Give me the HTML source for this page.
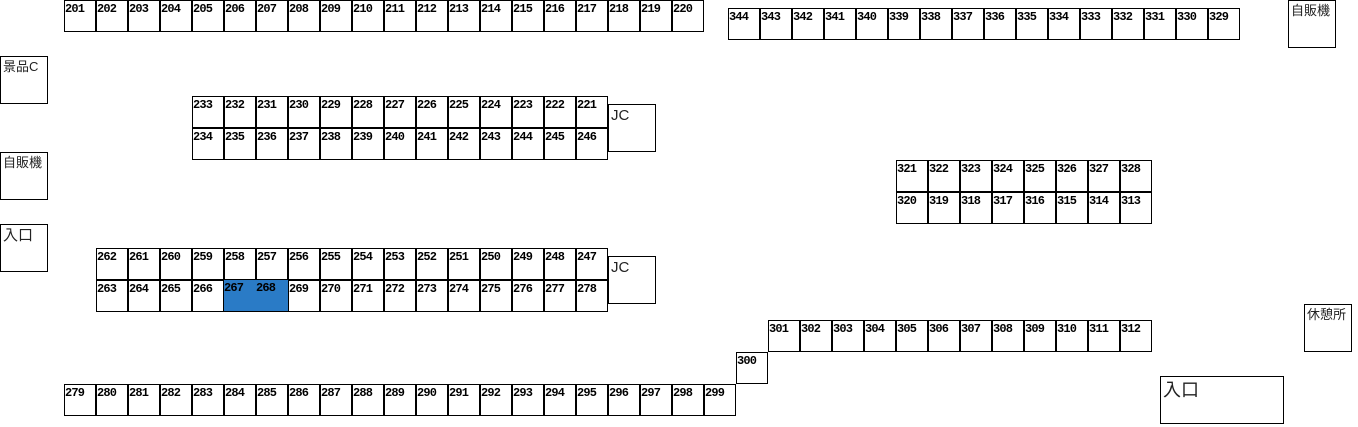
<!DOCTYPE html>
<html><head><meta charset="utf-8"><style>
body{margin:0;width:1358px;height:427px;background:#fff;position:relative;overflow:hidden;font-family:"Liberation Mono",monospace;}
.r{position:absolute;display:flex;height:32px;}
.r div{width:32px;height:32px;box-sizing:border-box;border:1px solid #000;font-weight:bold;font-size:12px;line-height:13px;padding:2px 0 0 0;letter-spacing:-0.8px;color:#000;}
.r div.b{background:#2a7bc6;border:0;border-bottom:1px solid #000;}
.bx{position:absolute;box-sizing:border-box;border:1px solid #000;font-family:"Liberation Sans","Noto Sans CJK JP",sans-serif;font-size:13px;line-height:17px;padding:1px 2px;color:#222;}
</style></head><body>
<div class="r" style="left:64px;top:0"><div>201</div><div>202</div><div>203</div><div>204</div><div>205</div><div>206</div><div>207</div><div>208</div><div>209</div><div>210</div><div>211</div><div>212</div><div>213</div><div>214</div><div>215</div><div>216</div><div>217</div><div>218</div><div>219</div><div>220</div></div>
<div class="r" style="left:728px;top:8px"><div>344</div><div>343</div><div>342</div><div>341</div><div>340</div><div>339</div><div>338</div><div>337</div><div>336</div><div>335</div><div>334</div><div>333</div><div>332</div><div>331</div><div>330</div><div>329</div></div>
<div class="bx" style="left:1288px;top:0;width:48px;height:48px">自販機</div>
<div class="bx" style="left:0;top:56px;width:48px;height:48px">景品C</div>
<div class="r" style="left:192px;top:96px"><div>233</div><div>232</div><div>231</div><div>230</div><div>229</div><div>228</div><div>227</div><div>226</div><div>225</div><div>224</div><div>223</div><div>222</div><div>221</div></div>
<div class="r" style="left:192px;top:128px"><div>234</div><div>235</div><div>236</div><div>237</div><div>238</div><div>239</div><div>240</div><div>241</div><div>242</div><div>243</div><div>244</div><div>245</div><div>246</div></div>
<div class="bx" style="left:608px;top:104px;width:48px;height:48px;font-size:15px;line-height:20px">JC</div>
<div class="bx" style="left:0;top:152px;width:48px;height:48px">自販機</div>
<div class="r" style="left:896px;top:160px"><div>321</div><div>322</div><div>323</div><div>324</div><div>325</div><div>326</div><div>327</div><div>328</div></div>
<div class="r" style="left:896px;top:192px"><div>320</div><div>319</div><div>318</div><div>317</div><div>316</div><div>315</div><div>314</div><div>313</div></div>
<div class="bx" style="left:0;top:224px;width:48px;height:48px;font-size:15px;line-height:20px">入口</div>
<div class="r" style="left:96px;top:248px"><div>262</div><div>261</div><div>260</div><div>259</div><div>258</div><div>257</div><div>256</div><div>255</div><div>254</div><div>253</div><div>252</div><div>251</div><div>250</div><div>249</div><div>248</div><div>247</div></div>
<div class="r" style="left:96px;top:280px"><div>263</div><div>264</div><div>265</div><div>266</div><div class="b">267</div><div class="b">268</div><div>269</div><div>270</div><div>271</div><div>272</div><div>273</div><div>274</div><div>275</div><div>276</div><div>277</div><div>278</div></div>
<div class="bx" style="left:608px;top:256px;width:48px;height:48px;font-size:15px;line-height:20px">JC</div>
<div class="bx" style="left:1304px;top:304px;width:48px;height:48px">休憩所</div>
<div class="r" style="left:768px;top:320px"><div>301</div><div>302</div><div>303</div><div>304</div><div>305</div><div>306</div><div>307</div><div>308</div><div>309</div><div>310</div><div>311</div><div>312</div></div>
<div class="r" style="left:736px;top:352px"><div>300</div></div>
<div class="r" style="left:64px;top:384px"><div>279</div><div>280</div><div>281</div><div>282</div><div>283</div><div>284</div><div>285</div><div>286</div><div>287</div><div>288</div><div>289</div><div>290</div><div>291</div><div>292</div><div>293</div><div>294</div><div>295</div><div>296</div><div>297</div><div>298</div><div>299</div></div>
<div class="bx" style="left:1160px;top:376px;width:124px;height:48px;font-size:18px;line-height:24px">入口</div>
</body></html>
